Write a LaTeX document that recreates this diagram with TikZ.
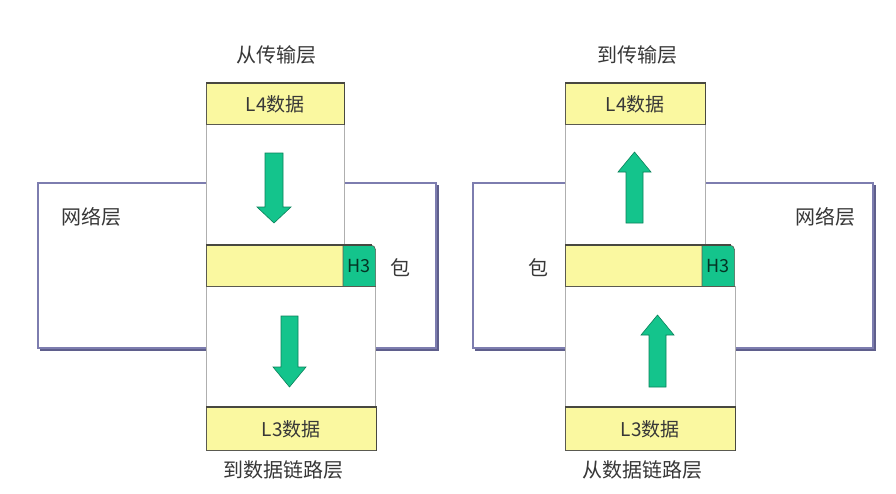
\documentclass[tikz,border=0pt]{standalone}
\usepackage{fontspec}
\newfontfamily\cjk{Noto Sans CJK SC}
\definecolor{ylw}{RGB}{250,248,160}
\definecolor{grn}{RGB}{20,196,140}
\definecolor{grnd}{RGB}{10,130,90}
\definecolor{netc}{RGB}{125,125,175}
\definecolor{nets}{RGB}{95,95,140}
\definecolor{edge}{RGB}{90,90,80}
\definecolor{coll}{RGB}{175,175,175}
\definecolor{txt}{RGB}{55,55,55}
\tikzset{
  ybox/.style={fill=ylw, draw=edge, line width=0.6pt, anchor=north west, inner sep=0pt,
    font=\cjk\fontsize{19}{19}\selectfont, text=txt},
  hbox/.style={fill=grn, draw=edge, line width=0.6pt, anchor=north west, inner sep=0pt,
    rounded corners=0pt, font=\cjk\fontsize{18}{18}\selectfont, text=grnd!40!black},
  lbl/.style={font=\cjk\fontsize{20}{20}\selectfont, text=txt, inner sep=0pt},
  netbox/.style={draw=netc, line width=1.2pt, fill=white},
  netshadow/.style={draw=nets, line width=2pt},
  col/.style={fill=white, draw=none},
  colline/.style={draw=coll, line width=0.6pt},
  topedge/.style={draw=edge!80!black, line width=1.6pt},
  blockarrow/.style={fill=grn, draw=grnd, line width=0.6pt, line join=miter}
}
\begin{document}
\begin{tikzpicture}[x=1pt,y=-1pt]
\useasboundingbox (0,0) rectangle (896,493);
\fill[white] (0,0) rectangle (896,493);

% ================= LEFT =================
\draw[netshadow] (40,350) -- (438,350) -- (438,185);
\draw[netbox] (38,183) rectangle (436,348);
\fill[col] (206,124) rectangle (344,245);
\fill[col] (206,286) rectangle (375,407);
\draw[colline] (206,124) -- (206,245) (344,124) -- (344,245);
\draw[colline] (206,286) -- (206,407) (375,286) -- (375,407);

\node[ybox, minimum width=138pt, minimum height=41pt] (l4a) at (206,83) {L4数据};
\draw[topedge] (l4a.north west) -- (l4a.north east) -- (l4a.south east);

\node[ybox, minimum width=137pt, minimum height=41pt] (pa) at (206,245) {};
\node[hbox, draw=none, fill=none, minimum width=32pt, minimum height=41pt] (h3a) at (343,245) {};
\filldraw[fill=grn, draw=edge, line width=0.6pt] (h3a.south west) -- (h3a.north west) -- ([xshift=-5pt]h3a.north east) [rounded corners=5pt] -- (h3a.north east) [sharp corners] -- (h3a.south east) -- cycle;
\node[hbox, fill=none, draw=none] at (h3a.center) [anchor=center] {H3};
\draw[topedge] (pa.north west) -- ([xshift=-4pt]h3a.north east);
\draw[edge, line width=0.6pt] (pa.south west) -- (h3a.south east);

\node[ybox, minimum width=170pt, minimum height=43pt] (l3a) at (206,407) {L3数据};
\draw[topedge] (l3a.north west) -- (l3a.north east) -- (l3a.south east);

\node[lbl] (ta) at (276,55) {从传输层};
\node[lbl] (ba) at (283,470) {到数据链路层};
\node[lbl] (na) at (91,217) {网络层};
\node[lbl] (pka) at (400,268) {包};

\draw[blockarrow] (265,153) -- (283,153) -- (283,207) -- (291,207) -- (274,223) -- (257,207) -- (265,207) -- cycle;
\draw[blockarrow] (281,316) -- (298,316) -- (298,367) -- (306,367) -- (289.5,387) -- (273,367) -- (281,367) -- cycle;

% ================= RIGHT =================
\draw[netshadow] (475,350) -- (875,350) -- (875,185);
\draw[netbox] (473,183) rectangle (873,348);
\fill[col] (565,124) rectangle (705,245);
\fill[col] (565,286) rectangle (735,407);
\draw[colline] (565,124) -- (565,245) (705,124) -- (705,245);
\draw[colline] (565,286) -- (565,407) (735,286) -- (735,407);

\node[ybox, minimum width=140pt, minimum height=41pt] (l4b) at (565,83) {L4数据};
\draw[topedge] (l4b.north west) -- (l4b.north east) -- (l4b.south east);

\node[ybox, minimum width=137pt, minimum height=41pt] (pb) at (565,245) {};
\node[hbox, draw=none, fill=none, minimum width=32pt, minimum height=41pt] (h3b) at (702,245) {};
\filldraw[fill=grn, draw=edge, line width=0.6pt] (h3b.south west) -- (h3b.north west) -- ([xshift=-5pt]h3b.north east) [rounded corners=5pt] -- (h3b.north east) [sharp corners] -- (h3b.south east) -- cycle;
\node[hbox, fill=none, draw=none] at (h3b.center) [anchor=center] {H3};
\draw[topedge] (pb.north west) -- ([xshift=-4pt]h3b.north east);
\draw[edge, line width=0.6pt] (pb.south west) -- (h3b.south east);

\node[ybox, minimum width=170pt, minimum height=43pt] (l3b) at (565,407) {L3数据};
\draw[topedge] (l3b.north west) -- (l3b.north east) -- (l3b.south east);

\node[lbl] (tb) at (637,55) {到传输层};
\node[lbl] (bb) at (642,470) {从数据链路层};
\node[lbl] (nb) at (825,217) {网络层};
\node[lbl] (pkb) at (538,268) {包};

\draw[blockarrow] (626,223) -- (643,223) -- (643,172) -- (651,172) -- (634.5,152) -- (618,172) -- (626,172) -- cycle;
\draw[blockarrow] (649,387) -- (666,387) -- (666,335) -- (674,335) -- (657.5,315) -- (641,335) -- (649,335) -- cycle;
\end{tikzpicture}
\end{document}
